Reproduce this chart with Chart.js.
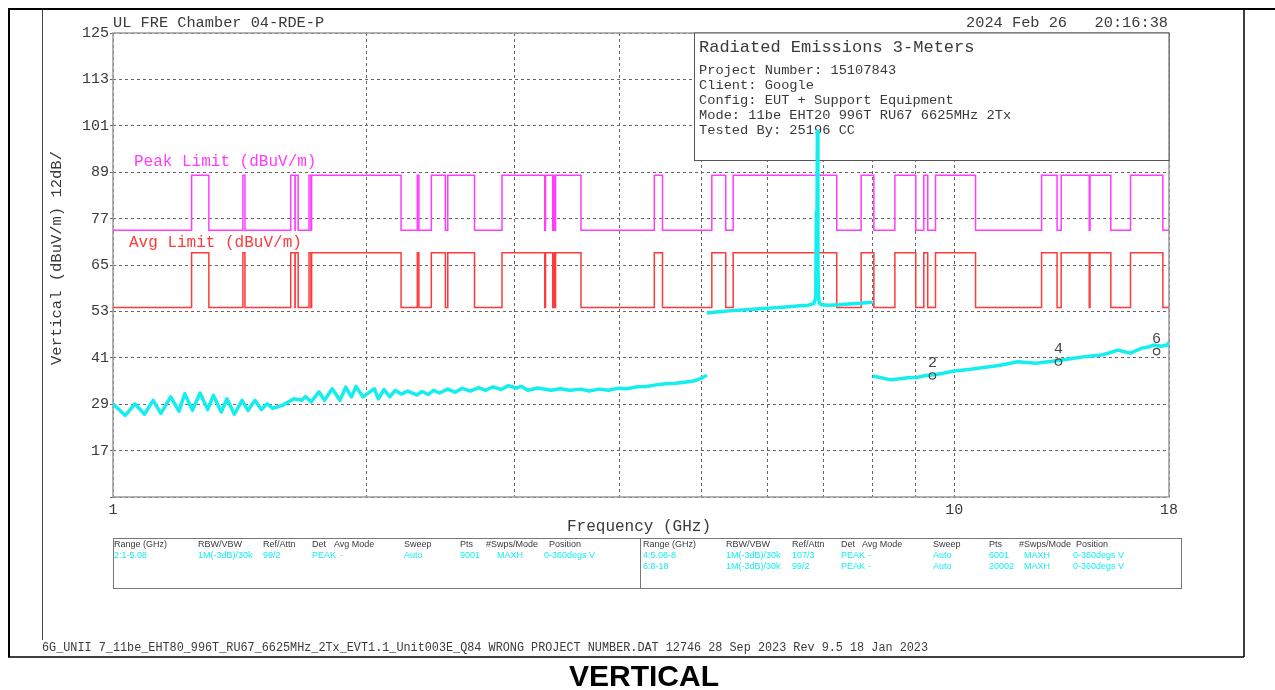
<!DOCTYPE html>
<html>
<head>
<meta charset="utf-8">
<title>Radiated Emissions 3-Meters</title>
<script src="https://cdn.jsdelivr.net/npm/chart.js@4.4.1/dist/chart.umd.min.js"></script>
<style>
  html, body { margin: 0; padding: 0; background: #fff; }
  canvas { display: block; }
</style>
</head>
<body>
<canvas id="chart" width="1275" height="690"></canvas>
<script>
// --- data (GHz / dBuV/m) ---
const yTickVals = [5, 17, 29, 41, 53, 65, 77, 89, 101, 113, 125];
const xGridVals = [1, 2, 3, 4, 5, 6, 7, 8, 9, 10, 18];
const xLabelVals = [1, 10, 18];

// restricted band edges (limit toggles at each edge, starts restricted at 1 GHz)
const bandEdges = [1, 1.24, 1.3, 1.427, 1.435, 1.6265, 1.6455, 1.6465, 1.66, 1.71, 1.7188, 1.7222,
  2.2, 2.3, 2.31, 2.39, 2.4835, 2.5, 2.69, 2.9, 3.26, 3.267, 3.332, 3.339, 3.3458, 3.358,
  3.6, 4.4, 4.5, 5.15, 5.35, 5.46, 7.25, 7.75, 8.025, 8.5, 9.0, 9.2, 9.3, 9.5,
  10.6, 12.7, 13.25, 13.4, 14.47, 14.5, 15.35, 16.2, 17.7];
const peakRestricted = 74, peakOther = 88.2;
const avgRestricted = 54, avgOther = 68.2;

// range 2: 1-5.08 GHz
const seg1Freq = [1.000, 1.034, 1.062, 1.090, 1.116, 1.140, 1.171, 1.198, 1.217, 1.243, 1.269, 1.296, 1.316,
  1.345, 1.366, 1.394, 1.424, 1.447, 1.475, 1.501, 1.525, 1.549, 1.590, 1.641, 1.676, 1.694, 1.720, 1.757,
  1.784, 1.822, 1.861, 1.891, 1.921, 1.945, 1.982, 2.045, 2.067, 2.100, 2.133, 2.165, 2.201, 2.240, 2.296,
  2.330, 2.369, 2.405, 2.444, 2.500, 2.550, 2.600, 2.659, 2.720, 2.773, 2.830, 2.892, 2.950, 3.016, 3.060,
  3.112, 3.200, 3.315, 3.400, 3.493, 3.600, 3.681, 3.780, 3.879, 3.980, 4.087, 4.200, 4.309, 4.420, 4.540,
  4.660, 4.784, 4.900, 4.990, 5.080];
const seg1Level = [29.1, 26.1, 29.1, 26.4, 30.0, 26.6, 30.9, 27.2, 31.7, 27.4, 31.9, 27.6, 31.3,
  27.0, 30.4, 26.4, 30.0, 27.4, 30.0, 27.6, 29.1, 27.9, 28.7, 30.4, 30.0, 31.0, 29.6, 32.2,
  30.0, 33.0, 30.0, 33.4, 30.9, 33.6, 30.9, 33.0, 30.4, 32.8, 30.9, 32.6, 31.6, 32.4, 31.4,
  32.3, 31.5, 32.6, 31.9, 32.9, 32.1, 33.1, 32.4, 33.3, 32.6, 33.5, 32.8, 33.8, 33.2, 33.6,
  32.6, 33.2, 32.6, 33.0, 32.6, 32.9, 32.4, 32.9, 32.6, 33.1, 33.0, 33.5, 33.6, 34.0, 34.3,
  34.4, 34.7, 35.0, 35.6, 36.5];

// range 4: 5.08-8 GHz (carrier spike)
const seg2Freq = [5.08, 5.25, 5.45, 5.70, 6.00, 6.25, 6.50, 6.70, 6.81, 6.845, 6.857, 6.866, 6.876, 6.886,
  6.895, 6.91, 6.95, 7.10, 7.30, 7.50, 7.75, 8.00];
const seg2Level = [52.6, 52.9, 53.2, 53.5, 53.8, 54.1, 54.4, 54.6, 55.0, 56.5, 79.0, 70.0, 100.0, 66.0,
  57.0, 55.2, 54.7, 54.6, 54.7, 54.9, 55.1, 55.4];

// range 6: 8-18 GHz
const seg3Freq = [8.00, 8.20, 8.41, 8.63, 8.85, 9.05, 9.25, 9.47, 9.70, 10.0, 10.4, 10.84, 11.3, 11.9,
  12.5, 13.3, 13.8, 14.3, 14.96, 15.3, 15.65, 16.2, 16.7, 17.0, 17.3, 17.6, 17.9, 18.0];
const seg3Level = [36.3, 35.8, 35.3, 35.6, 35.9, 36.0, 36.4, 36.6, 37.0, 37.6, 38.0, 38.5, 39.0, 40.0,
  39.6, 40.3, 40.8, 41.3, 41.7, 42.3, 43.0, 42.2, 43.5, 43.8, 44.3, 44.0, 44.3, 45.0];

const markerFreq = [9.42, 13.3, 17.4];
const markerLevel = [36.3, 39.9, 42.6];
const markerLabel = ['2', '4', '6'];

// --- helpers ---
const MONO = '"Liberation Mono", "DejaVu Sans Mono", monospace';
const SANS = '"Liberation Sans", Arial, sans-serif';
const INK = '#3a3a3a';
const CYAN = '#14eeee';

function pts(xs, ys) { return xs.map((x, i) => ({ x: x, y: ys[i] })); }

function limitPts(hi, lo) {
  const out = bandEdges.map((f, i) => ({ x: f, y: i % 2 === 0 ? lo : hi }));
  out.push({ x: 18, y: lo });
  return out;
}

function text(ctx, s, x, y, font, color, align, base, maxW) {
  ctx.font = font;
  ctx.fillStyle = color;
  ctx.textAlign = align || 'left';
  ctx.textBaseline = base || 'middle';
  if (maxW) ctx.fillText(s, x, y, maxW); else ctx.fillText(s, x, y);
}

function line(ctx, x1, y1, x2, y2, color, w) {
  ctx.beginPath();
  ctx.strokeStyle = color;
  ctx.lineWidth = w;
  ctx.moveTo(x1, y1);
  ctx.lineTo(x2, y2);
  ctx.stroke();
}

const sheet = {
  id: 'sheet',
  beforeDraw(chart) {
    const ctx = chart.ctx;
    ctx.save();
    ctx.fillStyle = '#fff';
    ctx.fillRect(0, 0, chart.width, chart.height);
    ctx.restore();
  },
  beforeDatasetsDraw(chart) {
    const ctx = chart.ctx, a = chart.chartArea;
    ctx.save();
    // plot frame
    ctx.strokeStyle = '#9a9a9a';
    ctx.lineWidth = 1.5;
    ctx.strokeRect(a.left, a.top, a.right - a.left, a.bottom - a.top);

    // info box
    ctx.fillStyle = '#fff';
    ctx.fillRect(694, a.top, a.right - 694, 160 - a.top);
    ctx.strokeStyle = '#555';
    ctx.lineWidth = 1;
    ctx.strokeRect(694.5, a.top, a.right - 694.5, 160.5 - a.top);
    text(ctx, 'Radiated Emissions 3-Meters', 699, 47, '17px ' + MONO, INK);
    const info = ['Project Number: 15107843', 'Client: Google', 'Config: EUT + Support Equipment',
      'Mode: 11be EHT20 996T RU67 6625MHz 2Tx', 'Tested By: 25196 CC'];
    info.forEach((s, i) => text(ctx, s, 699, 70 + i * 15.2, '13.7px ' + MONO, INK));

    // limit labels
    text(ctx, 'Peak Limit (dBuV/m)', 134, 162, '16px ' + MONO, '#ff3cff');
    text(ctx, 'Avg Limit (dBuV/m)', 129, 243, '16px ' + MONO, '#ff3a3a');
    ctx.restore();
  },
  afterDatasetsDraw(chart) {
    const ctx = chart.ctx, xs = chart.scales.x, ys = chart.scales.y;
    ctx.save();
    markerFreq.forEach((f, i) => {
      text(ctx, markerLabel[i], xs.getPixelForValue(f), ys.getPixelForValue(markerLevel[i]) - 13,
        '15px ' + MONO, '#444', 'center');
    });
    ctx.restore();
  },
  afterDraw(chart) {
    const ctx = chart.ctx;
    ctx.save();
    // sheet frame
    line(ctx, 8, 9, 1275, 9, '#000', 2);
    line(ctx, 9, 8, 9, 657, '#000', 2);
    line(ctx, 1244, 8, 1244, 657, '#000', 1.5);
    line(ctx, 8, 657, 1244, 657, '#000', 1.5);
    line(ctx, 42.5, 10, 42.5, 640, '#444', 1);

    // header
    text(ctx, 'UL FRE Chamber 04-RDE-P', 113, 23, '15.3px ' + MONO, INK);
    text(ctx, '2024 Feb 26   20:16:38', 1168, 23, '15.3px ' + MONO, INK, 'right');

    // axis titles
    text(ctx, 'Frequency (GHz)', 639, 527, '16px ' + MONO, INK, 'center');
    ctx.save();
    ctx.translate(57, 258);
    ctx.rotate(-Math.PI / 2);
    text(ctx, 'Vertical (dBuV/m) 12dB/', 0, 0, '15.5px ' + MONO, INK, 'center');
    ctx.restore();

    // settings table
    ctx.strokeStyle = '#777';
    ctx.lineWidth = 1;
    ctx.strokeRect(113.5, 538.5, 1068, 50);
    line(ctx, 640.5, 538, 640.5, 589, '#777', 1);
    const f9 = '9px ' + SANS;
    const headL = [[114, 'Range (GHz)'], [198, 'RBW/VBW'], [263, 'Ref/Attn'], [312, 'Det'], [334, 'Avg Mode'],
      [404, 'Sweep'], [460, 'Pts'], [486, '#Swps/Mode'], [549, 'Position']];
    const rowL = [[114, '2:1-5.08'], [198, '1M(-3dB)/30k'], [263, '99/2'], [312, 'PEAK'], [340, '-'],
      [404, 'Auto'], [460, '9001'], [497, 'MAXH'], [544, '0-360degs V']];
    const headR = [[643, 'Range (GHz)'], [726, 'RBW/VBW'], [792, 'Ref/Attn'], [841, 'Det'], [862, 'Avg Mode'],
      [933, 'Sweep'], [989, 'Pts'], [1019, '#Swps/Mode'], [1076, 'Position']];
    const rowR1 = [[643, '4:5.08-8'], [726, '1M(-3dB)/30k'], [792, '107/3'], [841, 'PEAK'], [868, '-'],
      [933, 'Auto'], [989, '6001'], [1024, 'MAXH'], [1073, '0-360degs V']];
    const rowR2 = [[643, '6:8-18'], [726, '1M(-3dB)/30k'], [792, '99/2'], [841, 'PEAK'], [868, '-'],
      [933, 'Auto'], [989, '20002'], [1024, 'MAXH'], [1073, '0-360degs V']];
    headL.forEach(c => text(ctx, c[1], c[0], 545, f9, INK));
    headR.forEach(c => text(ctx, c[1], c[0], 545, f9, INK));
    rowL.forEach(c => text(ctx, c[1], c[0], 556, f9, CYAN));
    rowR1.forEach(c => text(ctx, c[1], c[0], 556, f9, CYAN));
    rowR2.forEach(c => text(ctx, c[1], c[0], 567, f9, CYAN));

    // footer
    text(ctx, '6G_UNII 7_11be_EHT80_996T_RU67_6625MHz_2Tx_EVT1.1_Unit003E_Q84 WRONG PROJECT NUMBER.DAT 12746 28 Sep 2023 Rev 9.5 18 Jan 2023',
      42, 648, '12px ' + MONO, INK, 'left', 'middle', 886);
    text(ctx, 'VERTICAL', 644, 686, 'bold 30px ' + SANS, '#000', 'center', 'alphabetic');
    ctx.restore();
  }
};

const ctx = document.getElementById('chart').getContext('2d');

const chart = new Chart(ctx, {
  type: 'line',
  data: {
    datasets: [
      {
        label: 'Markers',
        data: pts(markerFreq, markerLevel),
        showLine: false,
        pointStyle: 'circle',
        pointRadius: 3.2,
        pointBorderColor: '#444',
        pointBackgroundColor: 'rgba(0,0,0,0)',
        pointBorderWidth: 1.2
      },
      { label: 'Range 2', data: pts(seg1Freq, seg1Level), borderColor: CYAN, borderWidth: 3.5, pointRadius: 0,
        borderJoinStyle: 'round' },
      { label: 'Range 4', data: pts(seg2Freq, seg2Level), borderColor: CYAN, borderWidth: 3.5, pointRadius: 0 },
      { label: 'Range 6', data: pts(seg3Freq, seg3Level), borderColor: CYAN, borderWidth: 3.5, pointRadius: 0 },
      { label: 'Peak Limit (dBuV/m)', data: limitPts(peakOther, peakRestricted), stepped: true,
        borderColor: '#ff3cff', borderWidth: 1.5, pointRadius: 0 },
      { label: 'Avg Limit (dBuV/m)', data: limitPts(avgOther, avgRestricted), stepped: true,
        borderColor: '#ff3a3a', borderWidth: 1.5, pointRadius: 0 }
    ]
  },
  options: {
    responsive: false,
    animation: false,
    layout: { padding: { left: 0, right: 106, top: 33, bottom: 163 } },
    elements: { line: { tension: 0 } },
    plugins: { legend: { display: false }, tooltip: { enabled: false } },
    scales: {
      x: {
        type: 'logarithmic',
        min: 1,
        max: 18,
        afterBuildTicks: s => { s.ticks = xGridVals.map(v => ({ value: v })); },
        afterFit: s => { s.height = 30; },
        grid: { color: '#666', lineWidth: 1, drawTicks: false },
        border: { display: false, dash: [3, 3] },
        ticks: {
          autoSkip: false,
          maxRotation: 0,
          padding: 4,
          color: INK,
          font: { family: MONO, size: 15 },
          callback: v => xLabelVals.includes(v) ? String(v) : ''
        }
      },
      y: {
        min: 5,
        max: 125,
        afterBuildTicks: s => { s.ticks = yTickVals.map(v => ({ value: v })); },
        afterFit: s => { s.width = 113; },
        grid: { color: '#666', lineWidth: 1, drawTicks: true, tickLength: 3, tickColor: '#666' },
        border: { display: false, dash: [3, 3] },
        ticks: {
          padding: 1,
          color: INK,
          font: { family: MONO, size: 15 },
          callback: v => v === 5 ? '' : String(v)
        }
      }
    }
  },
  plugins: [sheet]
});
</script>
</body>
</html>
